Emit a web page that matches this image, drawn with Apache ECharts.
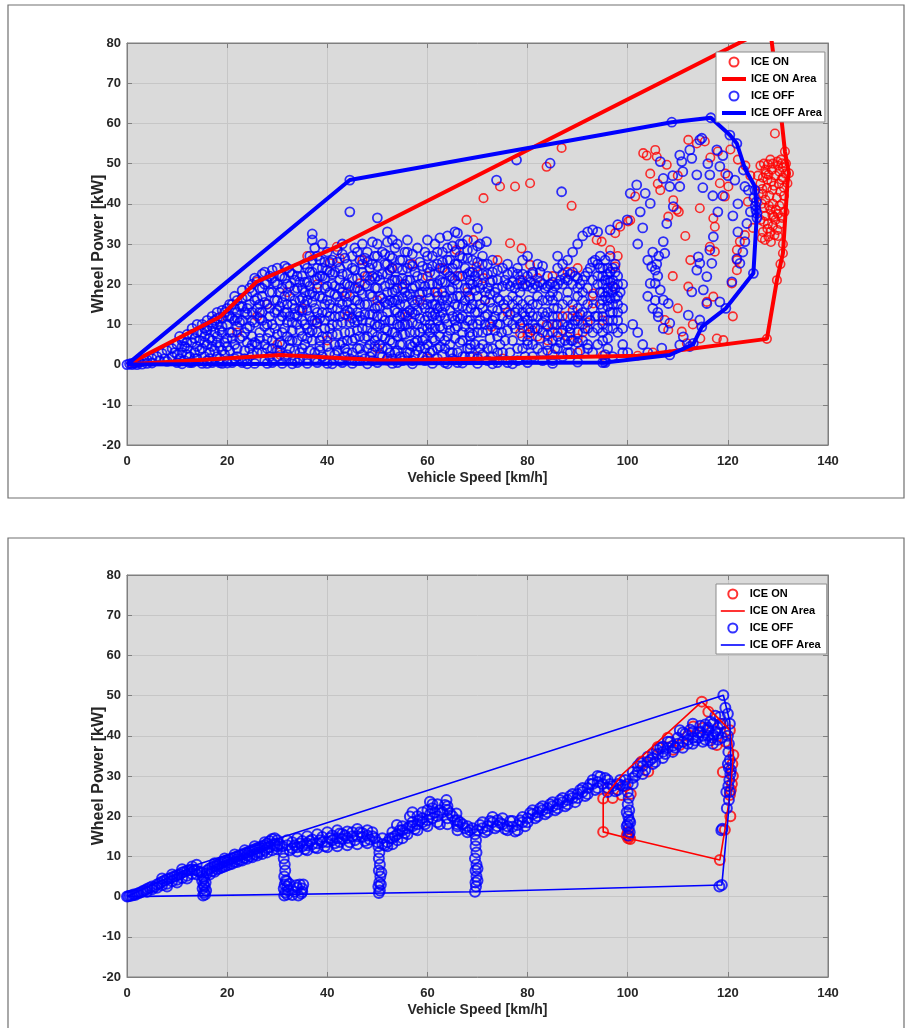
<!DOCTYPE html>
<html><head><meta charset="utf-8">
<script src="https://cdn.jsdelivr.net/npm/echarts@6/dist/echarts.min.js"></script>
<style>html,body{margin:0;padding:0;background:#fff}#c{width:906px;height:1028px}</style>
</head><body><div id="c"></div>
<script>
// ---------- DATA ----------
const X_RANGE = [0, 140, 20];
const Y_RANGE = [-20, 80, 10];
const X_NAME = 'Vehicle Speed [km/h]';
const Y_NAME = 'Wheel Power [kW]';
const LEGEND_NAMES = ['ICE ON', 'ICE ON Area', 'ICE OFF', 'ICE OFF Area'];

// Top panel – ICE ON points
const ON1_POINTS = [
[127.4,31],[128.1,31.8],[128.5,33],[129,34.5],[129.5,36],[130,37.5],[128,35],[127.5,37],[128.5,38.5],[129,40],[129.8,41.5],[130.5,43],
[128.3,42],[127.8,44],[128.7,45.5],[129.5,47],[130.3,48],[131,46.5],[131.2,44],[130.8,40],[130.5,35],[130,32],[128.8,48.5],[127.6,47.5],
[126.5,49.5],[127.2,50],[128,49.8],[129,50],[130,49.5],[131,49],[131.5,47.5],[126.8,40],[126.5,36],[127,33],[129.4,57.5],[130.8,50.1],
[131.4,53],[132.2,47.6],[131.9,45.1],[131,27.7],[129.8,21],[127.8,6.4],[131,30],[130.5,25],[126.5,45],[127,42.5],[128.2,39.5],[129.6,38.5],
[128.9,43.5],[130.2,45],[127.5,48.5],[126,47],[126.2,42.5],[127.3,39],[129.2,36.8],[128.6,30.5],[129.9,33.5],[131.3,38],[127.9,46],[130.6,51],
[126.8,31.5],[127.9,33.8],[129.3,32.2],[130.8,36.5],[127.2,35.5],[128.9,37.2],[130.3,39.5],[127.5,41],[129.2,44.5],[130.7,46],[128.1,47.2],
[126.9,43.7],[131.2,42],[129.9,50.5],[128.5,51],[127,46.5],[131.6,50],
[112.1,55.9],[113.8,55],[115.4,55.5],[103.1,52.6],[105.5,53.4],[107.8,49.7],[101.5,41.8],[100.1,35.6],[98.5,34.3],[97.5,32.7],[106.5,43.4],
[108.1,36.8],[109.1,40.9],[109.8,38.5],[110.2,38],[114.4,38.9],[117.1,36.4],[117.4,34.3],[119.4,41.8],[120.1,44.3],[118.4,45.1],[116.4,29.3],
[117.4,28.1],[112.1,19.4],[115.8,15.6],[117.1,16.9],[107.4,11.1],[108.1,8.6],[110.8,8.2],[111.8,5.3],[117.8,6.5],[119.1,6.1],[121.8,26],
[121.8,28.5],[122.4,30.6],[123.4,32.2],[120.8,20.2],[121.8,23.5],[118,53],[120.5,53.5],[122,51],[123.5,49.5],[124.5,47],[119.5,47.5],
[116.5,51.5],[110,47],[104.5,47.5],[106,45],[111.5,32],[112.5,26],[109,22],[110,14],[113,10],[114.5,6.5],[121,12],[124,40.5],[125,34],
[67.8,36],[71.2,41.4],[74.5,44.3],[77.5,44.3],[80.5,45.1],[83.8,49.2],[88.8,39.5],[86.8,53.9],[105.8,51.7],[103.8,52],[100.5,35.9],
[93.8,31],[94.8,30.6],[96.5,28.5],[97.5,24.4],[97.1,19.4],[93.1,17.7],[93.1,15.2],[80.5,24.8],[78.8,28.9],[76.5,30.2],[71.2,21.5],
[69.8,24.4],[65.8,28.5],[69.2,31],[83.8,9.9],[85.8,9.9],[78.5,7.8],[72.8,9.4],[71.5,16.1],[79,9],[80,7.5],[81,8.5],[82,7],[84,6],
[86,8],[88,7],[90,6.5],[91,8],[92,10.5],[90,12],[89,13.5],[79,21],[82,21.5],[85,22],[88,23],[90,24],[60,1.5],[70,2],[75,1.5],
[85,2.5],[90,3],[95,2.2],[102,2.2],[105,3],[52,1],[30.6,2.4],[18.6,11.9],[25.9,20.6],[41.9,29.3],[42.5,26.4],[40.5,25.2],[52.9,24],
[58.5,16.1],[46.5,20.2],[37.9,10.3],[43.9,17.7],[22,8],[26,12],[28,15],[32,18],[35,14],[38,20],[44,12],[48,22],[50,16],[55,20],
[57,25],[60,22],[62,18],[63,24],[66,22],[68,18],[36,27],[47,26],[40,6],[30,5],[50,4],[56,12],[74,26],[76,13],[87,12],[95,11],[98,27]
];
// Top panel – ICE ON area boundary
const ON1_AREA = [
[0,0],[18.6,11.9],[25.9,20.6],[41.9,29.3],[128.4,83.9],[130.8,60],[131.4,53],[132.2,47.6],[131.9,45.1],[131,27.7],[129.8,21],
[127.8,6.4],[102,2.2],[52,1],[30.6,2.4],[0,0]
];
// Top panel – ICE OFF points
const OFF1_POINTS = [
[0,0],[0.5,0.2],[1,0.3],[1.5,0.4],[2,0.5],[2.5,0.6],[3,0.8],[3.5,1],[4,1.2],[1,0],[2,0],[3,0.1],[4,0.3],[5,1.5],[5,0.4],[6,2],[6.5,1],
[7,2.8],[7.5,1.5],[8,3.5],[8,0.8],[9,4],[9,2],[10,5],[10,2.5],[10,0.5],
[11,6],[11,3],[11.5,1],[12,7.5],[12,4],[12.5,2],[13,9],[13,5.5],[13,0.5],[13.5,3],[14,8],[14,1.5],[14.5,6],[15,10],[15,4],[15,0.3],[15.5,7],[15.5,2],
[16,11],[16,8.5],[16,5],[16,1],[16.5,3],[17,12],[17,9.5],[17,6],[17,0.5],[17.5,3.5],[18,13],[18,10],[18,7],[18,2],[18.5,4.5],[19,11.5],[19,8],
[19,0.3],[19.5,5.5],[19.5,2.5],[20,14],[20,10],[20,6.5],[20,1],
[20.5,12],[20.5,3.5],[21,15],[21,8],[21,0.5],[21.5,11],[21.5,5],[22,16],[22,13],[22,9.5],[22,2],[22.5,6.5],[23,18.5],[23,14.5],[23,11],[23,0.5],
[23.5,8],[23.5,3.5],[24,17],[24,12.5],[24,5.5],[24,1],[24.5,15],[24.5,9.5],[25,20],[25,18],[25,13],[25,7],[25,2.5],
[25.5,16],[25.5,10.5],[25.5,0.3],[26,21],[26,14],[26,5],[26.5,19],[26.5,11.5],[26.5,8],[27,22.5],[27,17],[27,13],[27,3],[27.5,20],[27.5,9.5],
[27.5,1],[28,15],[28,6.5],[28.5,22],[28.5,18],[28.5,12],[29,23.5],[29,10],[29,4],[29,0.5],[29.5,16],[29.5,20.5],[30,24],[30,13.5],[30,7.5],[30,2],
[30.5,18],[30.5,11],[31,22],[31,15.5],[31,5],[31,0.3],[31.5,24.5],[31.5,9],[32,20],[32,13],[32,2.5],[32.5,17],[32.5,23],[33,10.5],[33,15],[33,6],
[33.5,21],[33.5,18.5],[34,24],[34,12],[34,0.5],[34.5,16],[34.5,8.5],[35,22],[35,19],[35,13.5],[35,4],[35.5,25],[35.5,10],
[36,20.5],[36,16],[36,6.5],[36,1.5],[36.5,23],[36.5,12],[37,32.5],[37,31],[37,26],[37,18],[37,8.5],[37.5,29],[37.5,21],[37.5,14],[37.5,3],
[38,27],[38,24],[38,10.5],[38,0.5],[38.5,17],[38.5,6],[39,30],[39,22],[39,13],[39,2],[39.5,25.5],[39.5,19],[39.5,9],[40,28],[40,16],[40,4.5],[40,0.3],
[40.5,23],[40.5,12],[41,26],[41,20],[41,7.5],[41.5,17.5],[41.5,2.5],[42,28.5],[42,14],[42,10],[42.5,24],[42.5,21],[42.5,5],[43,30],[43,18],[43,0.5],
[43.5,26.5],[43.5,12.5],[43.5,8],[44,22.5],[44,15.5],[44,3],[44.5,38],[44.5,45.9],[44.5,19.5],[44.5,10.5],[45,27],[45,24],[45,6],
[45.5,29],[45.5,16],[45.5,1],[46,21.5],[46,13],[46,8.5],[46.5,26],[46.5,18.5],[46.5,4],[47,30],[47,23],[47,11],[47.5,20],[47.5,15],[47.5,1.5],
[48,28],[48,25.5],[48,9],[48.5,17.5],[48.5,12.5],[48.5,5],[49,30.5],[49,22],[49,3],[49.5,27],[49.5,19],[49.5,10],[50,36.5],[50,30],[50,24.5],
[50,14.5],[50,7],[50,0.5],
[50.5,21],[50.5,17],[51,28],[51,12],[51,4],[51.5,25],[51.5,19.5],[51.5,9],[52,33],[52,30.5],[52,22.5],[52,15],[52,1.5],[52.5,27],[52.5,11],[52.5,6],
[53,31],[53,24],[53,18],[53,8],[53.5,29],[53.5,13.5],[53.5,3],[54,30],[54,21],[54,16],[54,10],[54,0.5],[54.5,26],[54.5,5],[55,23.5],[55,19],
[55,12.5],[55,7.5],
[55.5,28],[55.5,15],[55.5,2],[56,31],[56,21],[56,10],[56.5,25],[56.5,17.5],[56.5,5],[57,27.5],[57,13],[57,1],[57.5,23],[57.5,19.5],[57.5,8],
[58,29],[58,16],[58,3.5],[58.5,25.5],[58.5,11.5],[59,21.5],[59,18],[59,6],[59.5,28],[59.5,14],[59.5,1],[60,24],[60,9],[60,31],
[60.5,20],[60.5,16.5],[60.5,3],[61,27],[61,12],[61,6.5],[61.5,30],[61.5,22.5],[61.5,18],[62,25],[62,14],[62,1.5],[62.5,31.5],[62.5,9.5],[62.5,4.5],
[63,28],[63,20.5],[63,16],[63.5,23.5],[63.5,11.5],[63.5,0.5],[64,32],[64,26],[64,7],[64.5,18.5],[64.5,13.5],[65,29.5],[65,21.5],[65,3],
[65.5,33],[65.5,25],[65.5,9],
[66,32.7],[66,17],[66,12],[66,0.5],[66.5,27],[66.5,22],[66.5,5.5],[67,30],[67,14.5],[67,8],[67.5,24],[67.5,19],[67.5,2],[68,31],[68,26.5],[68,11],
[68.5,21],[68.5,16.5],[68.5,4],[69,28.5],[69,23],[69,7.5],[69.5,18.5],[69.5,13],[70,33.9],[70,25.5],[70,20.5],[70,10],[70,1.5],
[70.5,30],[70.5,15],[71,27],[71,22.5],[71,5],[71.8,30.6],[71.5,18],[71.5,12],[72,25],[72,8.5],[72,1],[72.5,20.5],[72.5,15.5],[73,23],[73,11],[73,4],
[73.5,18],[73.8,45.9],[74,21],[74,13.5],[74,7],[74,0.5],[74.5,16],[74.5,10],[75,24],[75,19.5],[75,3],
[10.5,7],[11.5,4.5],[12.5,0.5],[13.5,6.5],[14.5,3.5],[15.5,9],[16.5,6.5],[17.5,11],[18.5,8.5],[18.5,0.5],[19.5,13],[20.5,8],[21.5,14],[21.5,1.5],
[22.5,10.5],[23.5,13],[24.5,4],[25.5,5.5],[26.5,15],[27.5,5],[28.5,8],[28.5,2],[29.5,13],[30.5,22],[30.5,3.5],[31.5,13],[32.5,6],[33.5,12.5],
[33.5,1],[34.5,20.5],[34.5,3],[35.5,15],[36.5,8],[36.5,27],[37.5,11],[38.5,22],[38.5,3.5],[39.5,15],[40.5,18],[40.5,9],[41.5,12],[41.5,23],
[42.5,15.5],[42.5,1],[43.5,20],[43.5,4],[44.5,13],[44.5,1.5],[45.5,10.5],[45.5,19],[46.5,15],[46.5,1],[47.5,6.5],[47.5,26.5],[48.5,21],[48.5,2],
[49.5,14],[49.5,6],[50.5,10],[50.5,2.5],[51.5,15.5],[51.5,6.5],[52.5,20],[52.5,3],[53.5,16],[53.5,21],[54.5,12],[54.5,2],[55.5,10],[55.5,18],
[56.5,13.5],[56.5,3],[57.5,15],[57.5,5.5],[58.5,20],[58.5,8],[59.5,11],[59.5,4],[60.5,13],[60.5,8],[61.5,15],[61.5,9],[62.5,21],[62.5,12],
[63.5,6],[63.5,17],[64.5,22],[64.5,3],[65.5,15],[65.5,11],
[9.5,3],[10.5,1.5],[11,4.5],[12,2.5],[12,5.5],[13,7.5],[13.5,1.5],[14,4.5],[14,10],[15,8],[15.5,5.5],[16,9.5],[16.5,1.5],[17,4.5],[17,10.5],
[17.5,8],[18,5.5],[18,11.5],[18.5,1.5],[19,3.5],[19,9.5],[19,13.5],[20,4.5],[20,12],[20.5,15],[21,6.5],[21,11.5],[21.5,17],[22,4],[22,11.5],
[22.5,14.5],[23,7],[23,16.5],[23.5,1.5],[24,9],[24,14],[24.5,19],[25,5],[25,11],[25.5,21.5],[26,3],[26,16.5],[26.5,6.5],[26.5,13],[27,19],
[27,11],[27.5,15.5],[27.5,23],[28,4],[28,10],[28,20.5],[28.5,14],[29,6],[29,18],[29,21.5],[29.5,9],[30,3.5],[30,16],[30,20],[30.5,5.5],
[30.5,14.5],[31,8],[31,19],[31,12],[31.5,2],[31.5,17],[31.5,21.5],[32,7],[32,10.5],[32,15],[32,24],[32.5,4],[32.5,12],[32.5,19.5],[33,8.5],
[33,22.5],[33.5,3.5],[33.5,14],[33.5,16],[34,6],[34,10],[34,19],[34,22],[34.5,1.5],[34.5,13.5],[35,7],[35,11],[35,16.5],[35.5,5],[35.5,20.5],
[35.5,18],[36,9],[36,13.5],[36,24],[36.5,3.5],[36.5,17.5],[36.5,19.5],[37,6],[37,11],[37,15.5],[37,23],[37.5,1.5],[37.5,17],[38,8],[38,13],
[38,19],[38,21.5],[38.5,4.5],[38.5,11.5],[38.5,26],[39,7],[39,16.5],[39,24],[39.5,11],[39.5,21.5],[39.5,1],[40,13],[40,19.5],[40,23.5],[40,7],
[40.5,3],[40.5,15],[40.5,25.5],[41,10],[41,14],[41,22.5],[41.5,5],[41.5,19.5],[42,3.5],[42,7.5],[42,17],[42,25.5],[42.5,12],[42.5,19],[43,5.5],
[43,10.5],[43,15],[43,22.5],[43,27.5],[43.5,2],[43.5,17],[44,6],[44,13.5],[44,20],[44,25],[44.5,8],[44.5,17],[45,3],[45,11.5],[45,14],
[45,21.5],[45.5,6.5],[45.5,23.5],[46,4],[46,11],[46,16],[46,19],[46,28],[46.5,7],[46.5,12],[47,2.5],[47,9],[47,17.5],[47,25],[47.5,12.5],
[47.5,22],[48,4],[48,7],[48,15],[48,19.5],[48.5,10.5],[48.5,24],[49,1],[49,8],[49,12.5],[49,17],[49,25],[49.5,4.5],[49.5,21.5],[50,9.5],[50,12],
[50,19],[50,22],[50,27],[50.5,5],[50.5,14.5],[51,2],[51,7],[51,16.5],[51,22.5],[51.5,11],[51.5,27.5],[52,4],[52,8.5],[52,13],[52,18],[52,25],
[52.5,16],[52.5,23.5],[53,1.5],[53,5.5],[53,11],[53,15.5],[53,21],[53,26.5],[53.5,8],[53.5,18.5],[54,3.5],[54,7],[54,13],[54,19],[54,24],
[54.5,9.5],[54.5,15],[55,1],[55,5],[55,10],[55,16.5],[55,21.5],[55,26],[55.5,7.5],[55.5,12.5],[55.5,20],[56,3],[56,13],[56,17],[56,24],[56,28],
[56.5,8],[56.5,21],[57,4.5],[57,10.5],[57,16],[57,19],[57,24.5],[57.5,2.5],[57.5,12.5],[58,6],[58,10],[58,13.5],[58,22],[58.5,17.5],[58.5,4.5],
[59,2],[59,9],[59,15],[59,24.5],[59.5,6.5],[59.5,19.5],[60,2],[60,5],[60,12],[60,15],[60,18],[60,27],[60.5,10],[60.5,23],[61,3.5],[61,9],
[61,15],[61,20],[61,24.5],[61.5,6],[61.5,12.5],[62,4],[62,11],[62,17],[62,20],[62,28],[62.5,7],[62.5,14.5],[62.5,24],[63,2.5],[63,9],[63,13],
[63,18],[63,25.5],[63.5,4],[63.5,14.5],[63.5,20.5],[64,10],[64,16],[64,23],[64,29],[64.5,5],[64.5,8.5],[64.5,26],[65,1.5],[65,12],[65,16.5],
[65,19],[65,24],[65.5,6.5],[65.5,21],[65.5,28],[66,3],[66,9.5],[66,14.5],[66,20],[66,25],[66.5,11.5],[66.5,17],[66.5,30],[67,2],[67,6],[67,12],
[67,22],[67,26.5],[67.5,9.5],[67.5,16],[68,4],[68,14],[68,19],[68,22.5],[68,28.5],[68.5,7],[69,2],[69,10],[69,15],[69,20],[69,26],[69.5,5],
[69.5,22],[70,8],[70,13],[70,17],[70,23],[70,29.5],[70.5,4],[70.5,11],[70.5,19],[71,2.5],[71,8],[71,14],[71,20],[71,25],[71.5,10],[71.5,16],
[72,4],[72,12.5],[72,19],[72,22.5],[72.5,6.5],[72.5,10],[72.5,17.5],[73,2],[73,14],[73,21],[73,26],[73.5,8.5],[73.5,12],[74,3],[74,10],
[74,16.5],[74,19],[74,23.5],
[11,0.2],[16,0.3],[20,0.4],[24,0.2],[28,0.3],[33,0.2],[36,0.3],[41,0.2],[45,0.3],[48,0.2],[53,0.3],[57,0.2],[61,0.3],[64,0.2],[67,0.4],
[70,0.3],[73,0.2],[77,0.2],[80,0.5],[85,0.3],[90,0.6],[95,0.5],
[75.5,21],[76,20],[76.5,19.5],[77,20.5],[77.5,19],[78,20],[78.5,21],[79,19.5],[79.5,20],[80,19.5],[80.5,20.5],[81,19],[81.5,20],[82,19.5],
[82.5,20.5],[83,20],[83.5,19],[84,19.5],[84.5,20],[85,20.5],[85.5,19.5],[86,20],[86.5,21],[87,20],[87.5,21.5],[88,21],[88.5,22.5],[89,23],
[89.5,22],[90,21.5],[90.5,20],[91,21],[91.5,22],[92,23],[92.5,24],[93,25.5],[93.5,26],[94,25],[94.5,24],[95,22],
[76,11],[77,10],[78,11.5],[79,10.5],[80,11],[81,10],[82,9],[83,8],[84,7.5],[85,8],[86,7],[87,8.5],[88,9.5],[89,10],[90,11],[91,10],[92,9],
[80,5],[82,4],[84,3.5],[86,4],[88,5],[90,5.5],[92,4],[74.5,5],[74.8,8],[75,12],[75.2,15],[80,6],[80.2,9],[80.5,13],[80.3,16],[85,12],[85.2,14],
[85,16],[68.5,2],[68.6,5],[68.4,8],[68.5,11],[68.7,14],[68.4,17],[68.6,20],[68.5,23],[88.5,3],[88.7,6],[88.5,9],
[75.5,6],[75.5,14],[76,8.5],[76,22.5],[76.5,3],[76.5,12.5],[77,6],[77,17],[77,23],[77.5,9],[77.5,13],[78,4],[78,16],[78,22.5],[78.5,10],
[78.5,18],[79,7],[79,15],[79,22.5],[79.5,2],[79.5,12],[80,14],[80,22],[80.5,8],[81,5],[81,12],[81,15],[81,22.5],[81.5,9],[82,12],[82,17],
[82.5,6.5],[82.5,23],[83,3],[83,10.5],[83,16],[83.5,12],[84,5],[84,9.5],[84,13],[84,22],[84.5,17],[85,6],[85,10],[85,18],[85.5,4],[86,10],
[86,12],[86,17],[86,24],[86.5,5.5],[87,10],[87,15],[87,22.5],[87.5,6],[88,3],[88,12],[88,18],[88.5,8],[89,6],[89,15],[89,20],[89.5,11],[90,8],
[90,17],[90,19],[90.5,3.5],[90.5,12.5],[91,6],[91,13],[91,18],[91.5,9],[92,5],[92,15],[92,19],[92.5,11],[93,8],[93,21],[93,3],[93.5,12],[94,5],
[94,9],[94,22],[94.5,27],[95,8],[95,12],[95,16],[95,20],[95,24],[95.5,2.5],[96,11],[96,14.5],[96,18],[96,21],[96,6.5],[96.5,16.5],[96.5,23],
[97,13],[97,9],[97,24],[97,2],[97.5,19],[98,15],[98,22],[98,11],[98.5,18],[99,20],[99,14],[99,9],[99,3],
[76,25],[77.8,50.9],[78,24],[79,26],[80,27],[81,23],[82,25],[83,24.5],[84.5,50.1],[86.8,43],[86,27],[87,25],[88,26],[89,28],[90,30],[91,32],
[92,33],[93,33.5],[94,33],[96.5,33.5],[98,34.8],[99.9,36],[86,14],[88,16],[90,14],[91,16],[89,12],[87,2],[85,1],[83,1],[81,2],[78,1],[76,0.5],
[79,4],[82,15],[83,13],[84,16],[77,15],[78,14],[76,16],[79,13],
[94,12],[94.5,15],[95,18],[95.5,21],[96,19],[96,16],[96.5,13],[97,15],[97,18],[97,21],[97.5,23],[96,24],[95,14],[94,20],[93,17],[93,14],[92,12],
[95,10],[96,9],[97,11],[98,13],[98,17],[98,20],[97.5,25],[96.5,27],[95.5,26],[95.5,17],[96.5,20.5],[97.5,16.5],[94.5,18],[96,22.5],[97,19.5],
[95,6],[96,4],[95.5,1],[98,8],[99,5],[100,3],
[100.5,42.6],[101.8,44.7],[103.5,42.6],[104.5,40.1],[101,10],[102,8],[103,5],[104,3],[104.5,20.2],[105.5,23.5],[104.8,24.4],[105.5,20.2],
[104,17],[105,14],[104,26],[105,28],[106.5,18.6],[106,22],[105.8,25],[106.2,27],[105.5,16],[106,13],[107.1,16.1],[106.1,11.9],[107.1,9],
[106.8,4.1],[107.4,27.7],[107.1,30.6],[107.8,35.1],[109.1,39.3],[108.4,44.3],[110.4,44.3],[107.1,46.3],[106.5,50.5],[110.4,52.1],
[112.4,53.4],[114.8,56.3],[110.8,50.5],[112.8,51.3],[113.8,47.2],[116.4,47.2],[118.4,49.3],[121.4,45.9],[123.4,44.3],[125.4,43.4],
[108.1,15.2],[108.4,10.3],[110.4,4.9],[112.4,4.5],[113.1,5.3],[111.1,6.9],[112.1,12.3],[114.4,11.1],[115.8,15.2],[118.4,15.6],[120.8,20.6],
[121.8,26.3],[122.4,25.2],[123.4,30.6],[123.8,35.1],[114.1,26.8],[114.4,25.2],[113.8,23.5],[116.4,28.5],[116.8,25.2],[117.1,31.8],
[115.8,21.9],[115.1,18.6],[112.8,18.1],[124.1,43.4],[123.1,48.4],[121.8,55],[120.4,57.1],[117.8,53.4],[114.4,55.9],[116.6,61.4],[108.8,60.3],
[125.8,37.6],[125.6,38.5],[125.8,36.5],[125.5,39.5],[125.7,40.5],[125.2,41.5],[119,52],[116,50],[111,48],[109,47],[115,44],[120,47],
[122,40],[121,37],[119,42],[118,38],[117,42],[125.1,22.7],[119.6,14],[114.8,9.4],[108.4,2.4],[95.5,0.5],[123,28],[122,33],[124.5,38],
[102,30],[103,34],[102.5,38]
];
// Top panel – ICE OFF area boundary
const OFF1_AREA = [
[0,0],[44.5,45.9],[108.8,60.3],[116.6,61.4],[120.4,57.1],[121.8,55],[123.4,48.8],[125.4,44.3],[125.8,37.6],[125.1,22.7],[119.6,14],
[114.8,9.4],[113.1,5.1],[108.4,2.4],[95.5,0.5],[0,0]
];

// Bottom panel – ICE ON points
const ON2_POINTS = [
[95.1,24.4],[95.1,16.1],[100.1,14.5],[100.3,15],[99.8,15.2],[100.5,14.3],[100,16],[118.4,9.1],[119.4,16.6],[120.4,25.3],[120.6,26.5],
[120.8,28],[121.1,35.2],[120.9,33],[120.4,41.4],[114.8,48.5],[116.1,46],[117.8,37.7],[113.1,42.3],[110.4,37.7],[109.1,36.5],[102.8,33.6],
[104.1,31.1],[98.8,25.3],[97,24.5],[96,27],[119,31],[121,30],[118.5,43],[119.5,38.5],[112,40],[108,39.5],[106,37.2],[105,35.5],[115,42],
[100.6,25.5],[99.5,27.5],[120.5,20]
];
// Bottom panel – ICE ON area boundary
const ON2_AREA = [
[95.1,24.4],[95.1,16.1],[100.1,14.5],[118.4,9.1],[119.4,16.6],[120.4,25.3],[121.1,35.2],[120.4,41.4],[114.8,48.5],[99,30.5],[95.1,24.4]
];
// Bottom panel – ICE OFF points
const OFF2_POINTS = [
[0,0],[0.3,0.1],[0.6,0.2],[1,0.3],[1.3,0.5],[1.6,0.4],[2,0.7],[2.4,0.9],[2.8,1.1],[3.2,1.4],[3.6,1.6],[4,1.9],[4.5,2.2],[5,2.5],[5.5,2.4],
[6,3],[6.5,3.3],[7,3.7],[7.5,4],[8,4.3],[8.5,4.5],[9,4.8],[9.5,5],[10,5.3],[10.5,5.5],[11,6],[11.5,6.2],[12,6.4],[12.5,6.6],[13,6.8],
[13.5,6.6],[14,6.4],[14.5,6.1],[4,1.2],[5,1.8],[6,2.2],[7,2.8],[8,3.2],[9,3.8],[10,4.2],[11,4.6],[12,5.2],[13,5.6],[14,5.5],[8,2.5],[10,3.5],
[12,4.5],[7,4.5],[9,5.5],[11,6.8],[13,7.5],[13.9,7.9],
[15,6],[15.2,5],[15,4],[15.3,3],[15.1,2],[15.4,1],[15.2,0.3],[15.6,0.5],[15.8,1.5],[15.5,2.5],[15.7,3.5],[15.4,4.5],
[16,6.5],[16.5,7],[17,7.3],[17.5,7.6],[18,7.9],[18.5,8.2],[19,8.5],[19.5,8.8],[20,9],[20.5,9.2],[21,9.5],[21.5,9.8],[22,10],[22.5,10.3],[23,10.5],
[23.5,10.8],[24,11],[24.5,11.3],[25,11.5],[25.5,11.8],[26,12],[26.5,12.3],[27,12.5],[27.5,12.8],[28,13.2],[28.5,13.8],[29,14.3],[29.5,14.5],
[30,14],[30.5,13],[31,12.5],
[16,5.8],[17,6.3],[18,6.8],[19,7.3],[20,7.8],[21,8.2],[22,8.6],[23,9],[24,9.4],[25,9.8],[26,10.2],[27,10.6],[28,11],[29,11.5],[30,11.8],
[18,7.5],[20,8.5],[22,9.3],[24,10.2],[26,11],[28,12],[30,12.5],
[16.5,5.5],[17.5,6.2],[18.5,7],[19.5,7.5],[20.5,8],[21.5,8.6],[22.5,9],[23.5,9.6],[24.5,10],[25.5,10.5],[26.5,11],[27.5,11.5],[28.5,12.3],
[29.5,12.8],[17.5,8.3],[19.5,9.5],[21.5,10.5],[23.5,11.5],[25.5,12.5],[27.5,13.5],[29.5,13.2],
[31.2,11],[31.3,9.5],[31.5,8],[31.6,6.5],[31.4,5],[31.7,4],[31.5,3],[31.3,2],[31.6,1],[31.4,0.3],[32,0.5],[32.2,1.5],[32,2.5],[32.4,3.2],[31.9,3.8],
[33,0.4],[33.5,1.2],[34,2.2],[34.5,3],[35,2],[34.8,0.8],[34.2,0.3],[33.8,2.8],[35.2,3],[35,1.2],
[32,12.8],[33,12],[34,12.3],[35,12.5],[36,12.8],[37,13],[38,13.3],[39,13.5],[40,13.6],[41,14],[42,14.5],[43,14.3],[44,14.6],[45,15],[46,15],
[47,14.8],[48,15.2],[49,15],[33,13.5],[35,13.8],[37,14.2],[39,14.8],[41,15.2],[43,15.6],[45,16],[47,15.8],[49,16],[34,11.2],[36,11.5],[38,12],
[40,12.3],[42,12.5],[44,12.8],[46,13],[48,13.3],[50,13.5],[35.9,13.3],[42.5,15.7],
[32.5,11.5],[33.5,12.8],[34.5,13.2],[35.5,11.8],[36.5,13.8],[37.5,12.2],[38.5,14],[39.5,12.5],[40.5,14.6],[41.5,13.3],[42.5,13.6],[43.5,15.2],
[44.5,13.5],[45.5,14],[46.5,16],[47.5,13.8],[48.5,14.2],[49.5,14.5],[32,14],[34,14.5],[36,15],[38,15.5],[40,16],[42,16.5],[44,16.2],[46,16.8],
[48,16.5],
[50.2,12.5],[50.4,11],[50.3,9.5],[50.5,8],[50.3,6.5],[50.6,5],[50.4,3.5],[50.2,2.5],[50.5,1.5],[50.3,0.9],[50.7,3],[50.8,6],
[51,13],[52,13.5],[53,14.5],[54,15.5],[55,16.5],[56,17],[57,17.5],[58,18],[59,18.5],[60,19],[61,19.5],[62,20],[63,21],[64,21.5],[65,20],[66,19],
[67,18],[68,17.5],[69,17],[51,14.5],[53,16],[55,17.5],[57,18.5],[59,19.5],[60.5,23.6],[61,22],[62,23],[63.8,24],[64,22.5],[65.8,20.7],[66,17.5],
[68,16],[52,12.5],[54,14],[56,15.5],[58,16.5],[60,17.5],[62,18.5],[64,19.5],[66,18],[53.9,17.8],[56.5,19.9],[57,21],[59,21],
[51.5,12.8],[52.5,14.5],[53.5,15],[54.5,16.5],[55.5,15.8],[56.5,17.5],[57.5,16.8],[58.5,19],[59.5,18],[60.5,20.5],[61.5,21],[62.5,21.5],
[63.5,22.8],[64.5,20.8],[65.5,19],[66.5,18.5],[67.5,17],[68.5,16.5],[60,21.5],[61,23],[62.5,18],[64,18],[66,16.5],[58,20],[55,14.5],[53,13],
[69.5,15.5],[69.7,14],[69.6,12.5],[69.8,11],[69.5,9.5],[69.8,8],[69.6,6.5],[69.8,5],[69.6,3.5],[69.7,2.5],[69.5,1.2],[70,4],[70,7],
[70,16.5],[71,17],[72,17.5],[73,18.5],[74,19],[75,18],[76,17.5],[77,17.4],[78,17.8],[79,18.5],[80,19.5],[81,20.5],[82,21],[83,21.5],[84,22],
[85,22.5],[86,23],[87,23.5],[88,24],[89,24.5],[90,25.5],[91,26],[92,27],[93,28],[94,28.5],[95,28],[96,27],[97,27.5],[98,28],[99,27.5],
[71,18.5],[73,19.8],[75,19.5],[77,18.8],[79,19.8],[81,21.5],[83,22.5],[85,23.5],[87,24.5],[89,25.5],[91,27],[93,29],[94.5,29.8],[96,29],
[98.5,29],[72,16.5],[74,17.5],[76,16.5],[78,16.5],[80,18.5],[82,20],[84,21],[86,22],[88,23],[90,24.5],[92,25.5],[94,27],[96,26],[98,26.5],
[70.5,17.8],[71.5,16],[72.5,18.8],[73.5,17],[74.5,18.3],[75.5,16.8],[76.5,18.8],[77.5,16.2],[78.5,19],[79.5,17.5],[80.5,20.8],[81.5,19.5],
[82.5,22],[83.5,20.5],[84.5,23],[85.5,21.5],[86.5,24],[87.5,22.5],[88.5,25],[89.5,23.5],[90.5,26.5],[91.5,25],[92.5,28],[93.5,26.5],[94,30],
[95.5,29.5],[96.5,28],[97.5,26.2],[98.5,27.8],[99.5,29],
[100,26],[100.2,24.5],[100,23],[100.3,21.5],[100.1,20],[100.3,19],[100,18],[100.2,17],[100.4,16],[100.1,15.2],[99.8,17.5],[100.5,18.5],[99.8,21],
[100,28],[101,29.5],[102,31],[103,32.5],[104,33.5],[105,34.5],[106,35.5],[107,36],[108,37],[109,37.5],[110,38],[111,38.5],[112,39],[113,39.5],
[114,39.5],[115,40],[116,40],[117,39.5],[118,39],[101,31],[102.5,33.2],[104,34.8],[105.8,36.5],[107,37.3],[108.5,38.5],[110.4,41.4],[111.5,40.5],
[113,41],[114.5,41],[116,41.5],[117.1,40.2],[101,28],[103,30.5],[105,33],[107,34.5],[109,36],[111,37],[113,38],[115,38.5],[117,38],[118.4,44.7],
[117.5,45],[119,43],[118,42],[119.5,41],[116.5,43.5],[118.8,39.5],
[101.5,30],[102,32.5],[103.5,31.5],[104.5,34],[105.5,33.5],[106.5,37],[107.5,35.5],[108,38.5],[109.5,37],[110,39.5],[111,40.8],[112,38],
[112.5,41.5],[113.5,38.8],[114,40.8],[115.5,39],[116,42],[116.5,38.8],[117.5,41],[118,40.5],[114.5,42.5],[115.5,42.8],[117,43],[113,43],
[120,40],[120.2,38],[120.1,36],[120.4,34],[120.2,32],[120.5,30.5],[120.3,29],[120.1,27.5],[120.4,26],[120.2,24],[119.8,22],[120.6,31.5],[120,33],
[119.7,26],[118.7,16.5],[118.9,16.9],[118.8,2.9],[118.3,2.5],[119.1,50.1],[120.4,43],[119.5,47],[120,45.5]
];
// Bottom panel – ICE OFF area boundary
const OFF2_AREA = [
[0,0],[13.9,7.9],[119.1,50.1],[120.4,43.5],[120.6,33],[120.2,22],[118.8,2.9],[69.5,1.2],[0,0]
];

// ---------- CHART ----------
const RED = '#ff0000', BLUE = '#0000ff';
const FONT = "'Liberation Sans',Arial,Helvetica,sans-serif";
const GRIDS = [
  {left:127, top:43, width:701, height:402},
  {left:127, top:575, width:701, height:402}
];
const axisGray = '#7f7f7f';
const TXT = '#262626';

function xAxes(g){
  return [{
    gridIndex:g, type:'value', min:X_RANGE[0], max:X_RANGE[1], interval:X_RANGE[2],
    axisLine:{show:true, onZero:false, lineStyle:{color:axisGray, width:1}},
    axisTick:{show:true, inside:true, length:5, lineStyle:{color:axisGray}},
    splitLine:{show:true, lineStyle:{color:'#c6c6c6', width:1}},
    axisLabel:{color:TXT, fontWeight:'bold', fontSize:13, fontFamily:FONT, margin:10},
    name:X_NAME, nameLocation:'middle', nameGap:26, nameMoveOverlap:false,
    nameTextStyle:{color:TXT, fontWeight:'bold', fontSize:14, fontFamily:FONT, verticalAlign:'top'}
  },{
    gridIndex:g, type:'value', position:'top', min:X_RANGE[0], max:X_RANGE[1], interval:X_RANGE[2],
    axisLine:{show:true, onZero:false, lineStyle:{color:axisGray, width:1}},
    axisTick:{show:true, inside:true, length:5, lineStyle:{color:axisGray}},
    splitLine:{show:false}, axisLabel:{show:false}
  }];
}
function yAxes(g){
  return [{
    gridIndex:g, type:'value', min:Y_RANGE[0], max:Y_RANGE[1], interval:Y_RANGE[2],
    axisLine:{show:true, onZero:false, lineStyle:{color:axisGray, width:1}},
    axisTick:{show:true, inside:true, length:5, lineStyle:{color:axisGray}},
    splitLine:{show:true, lineStyle:{color:'#c6c6c6', width:1}},
    axisLabel:{color:TXT, fontWeight:'bold', fontSize:13, fontFamily:FONT, margin:6},
    name:Y_NAME, nameLocation:'middle', nameGap:20, nameMoveOverlap:false,
    nameTextStyle:{color:TXT, fontWeight:'bold', fontSize:16, fontFamily:FONT}
  },{
    gridIndex:g, type:'value', position:'right', min:Y_RANGE[0], max:Y_RANGE[1], interval:Y_RANGE[2],
    axisLine:{show:true, onZero:false, lineStyle:{color:axisGray, width:1}},
    axisTick:{show:true, inside:true, length:5, lineStyle:{color:axisGray}},
    splitLine:{show:false}, axisLabel:{show:false}
  }];
}

function scatter(name, data, color, g, size, bw){
  return {name, type:'scatter', xAxisIndex:g*2, yAxisIndex:g*2, data,
    symbol:'circle', symbolSize:size, large:false,
    itemStyle:{color:'rgba(0,0,0,0)', borderColor:color, borderWidth:bw},
    emphasis:{disabled:true}, silent:true};
}
function area(name, data, color, g, w){
  return {name, type:'line', xAxisIndex:g*2, yAxisIndex:g*2, data,
    symbol:'none', showSymbol:false, clip:true,
    lineStyle:{color, width:w}, itemStyle:{color},
    emphasis:{disabled:true}, silent:true};
}
const HIDE_SYMBOL = {color:'rgba(0,0,0,0)', borderColor:'rgba(0,0,0,0)', borderWidth:0};
function legend(top, suffix, lineW){
  const colors = [RED, RED, BLUE, BLUE];
  return {
    show:true, orient:'vertical', left:716, top:top,
    padding:[4,3,3,4], itemGap:5, itemWidth:24, itemHeight:9,
    backgroundColor:'#ffffff', borderColor:'#8c8c8c', borderWidth:1, borderRadius:0,
    selectedMode:false,
    textStyle:{color:'#000', fontWeight:'bold', fontSize:11, fontFamily:FONT, lineHeight:12},
    data: LEGEND_NAMES.map((n,i) => i % 2 === 1
      ? {name:n+suffix, itemStyle:HIDE_SYMBOL, lineStyle:{color:colors[i], width:lineW}}
      : {name:n+suffix})
  };
}

const chart = echarts.init(document.getElementById('c'), null, {renderer:'canvas'});
chart.setOption({
  animation:false,
  backgroundColor:'#ffffff',
  grid: GRIDS.map(g => Object.assign({show:true, backgroundColor:'#dadada', borderColor:axisGray, borderWidth:1, containLabel:false}, g)),
  xAxis: [...xAxes(0), ...xAxes(1)],
  yAxis: [...yAxes(0), ...yAxes(1)],
  legend: [legend(52, '', 4), legend(584, ' ', 1.6)],
  graphic: [
    {type:'rect', shape:{x:8, y:5, width:896, height:493}, style:{fill:null, stroke:'#707070', lineWidth:1.2}, silent:true, z:-1},
    {type:'rect', shape:{x:8, y:538, width:896, height:500}, style:{fill:null, stroke:'#707070', lineWidth:1.2}, silent:true, z:-1}
  ],
  series: [
    scatter(LEGEND_NAMES[0], ON1_POINTS, RED, 0, 8.5, 1.6),
    area(LEGEND_NAMES[1], ON1_AREA, RED, 0, 4),
    scatter(LEGEND_NAMES[2], OFF1_POINTS, BLUE, 0, 9, 1.8),
    area(LEGEND_NAMES[3], OFF1_AREA, BLUE, 0, 4),
    scatter(LEGEND_NAMES[0]+' ', ON2_POINTS, RED, 1, 10, 2),
    area(LEGEND_NAMES[1]+' ', ON2_AREA, RED, 1, 1.6),
    scatter(LEGEND_NAMES[2]+' ', OFF2_POINTS, BLUE, 1, 10, 2),
    area(LEGEND_NAMES[3]+' ', OFF2_AREA, BLUE, 1, 1.6)
  ]
});
</script></body></html>
